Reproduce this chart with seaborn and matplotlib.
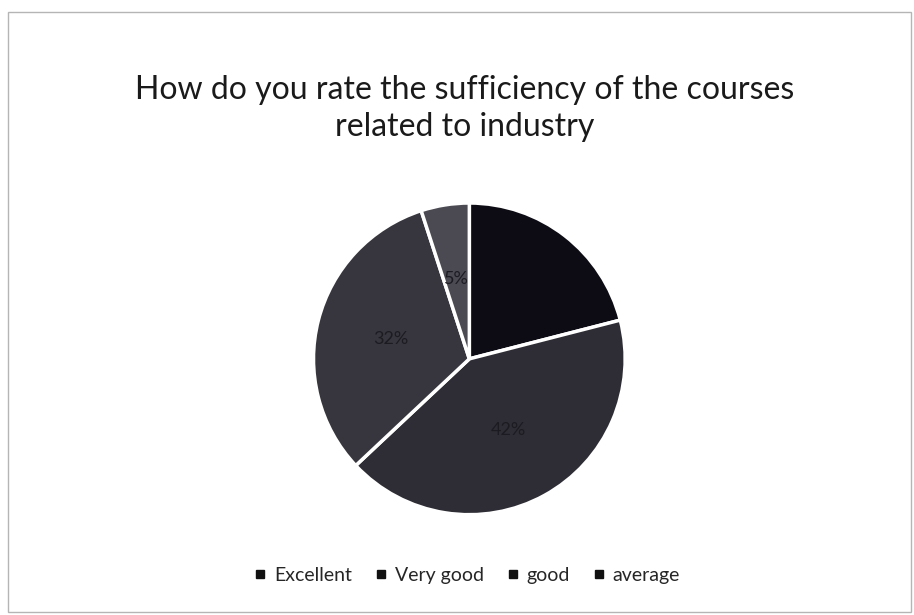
import matplotlib.pyplot as plt
import seaborn as sns
from matplotlib.lines import Line2D
from matplotlib.patches import Rectangle

categories = ["Excellent", "Very good", "good", "average"]
shares = [21, 42, 32, 5]
colors = ["#0d0c14", "#2e2d35", "#37363e", "#4b4a53"]

sns.set_theme(style="white")
plt.rcParams["font.family"] = ["Lato", "DejaVu Sans"]

fig = plt.figure(figsize=(9.14, 6.15), dpi=100)
fig.patch.set_facecolor("white")
ax = fig.add_axes([0.343, 0.163, 0.341, 0.507])

wedges, texts, autotexts = ax.pie(
    shares, colors=colors, startangle=90, counterclock=False,
    autopct="%1.0f%%", pctdistance=0.52,
    wedgeprops=dict(edgecolor="white", linewidth=2.5),
    textprops=dict(color="#1c1b22", fontsize=13))
autotexts[0].set_visible(False)
ax.set_xlim(-1.0, 1.0)
ax.set_ylim(-1.0, 1.0)
ax.set_aspect("equal")

fig.text(0.508, 0.823, "How do you rate the sufficiency of the courses\nrelated to industry",
         ha="center", va="center", fontsize=23, color="#1a1a1a", linespacing=1.3)

handles = [Line2D([], [], marker="s", linestyle="", color="#111111", markersize=5.5)
           for _ in categories]
fig.legend(handles, categories, loc="center", bbox_to_anchor=(0.51, 0.065), ncol=4,
           frameon=False, fontsize=14, handletextpad=0.3, columnspacing=1.1,
           handlelength=0.8)

fig.patches.append(Rectangle((0.009, 0.005), 0.988, 0.975, transform=fig.transFigure,
                             fill=False, edgecolor="#b5b5b5", linewidth=1))

fig.savefig("out.png", dpi=100)
